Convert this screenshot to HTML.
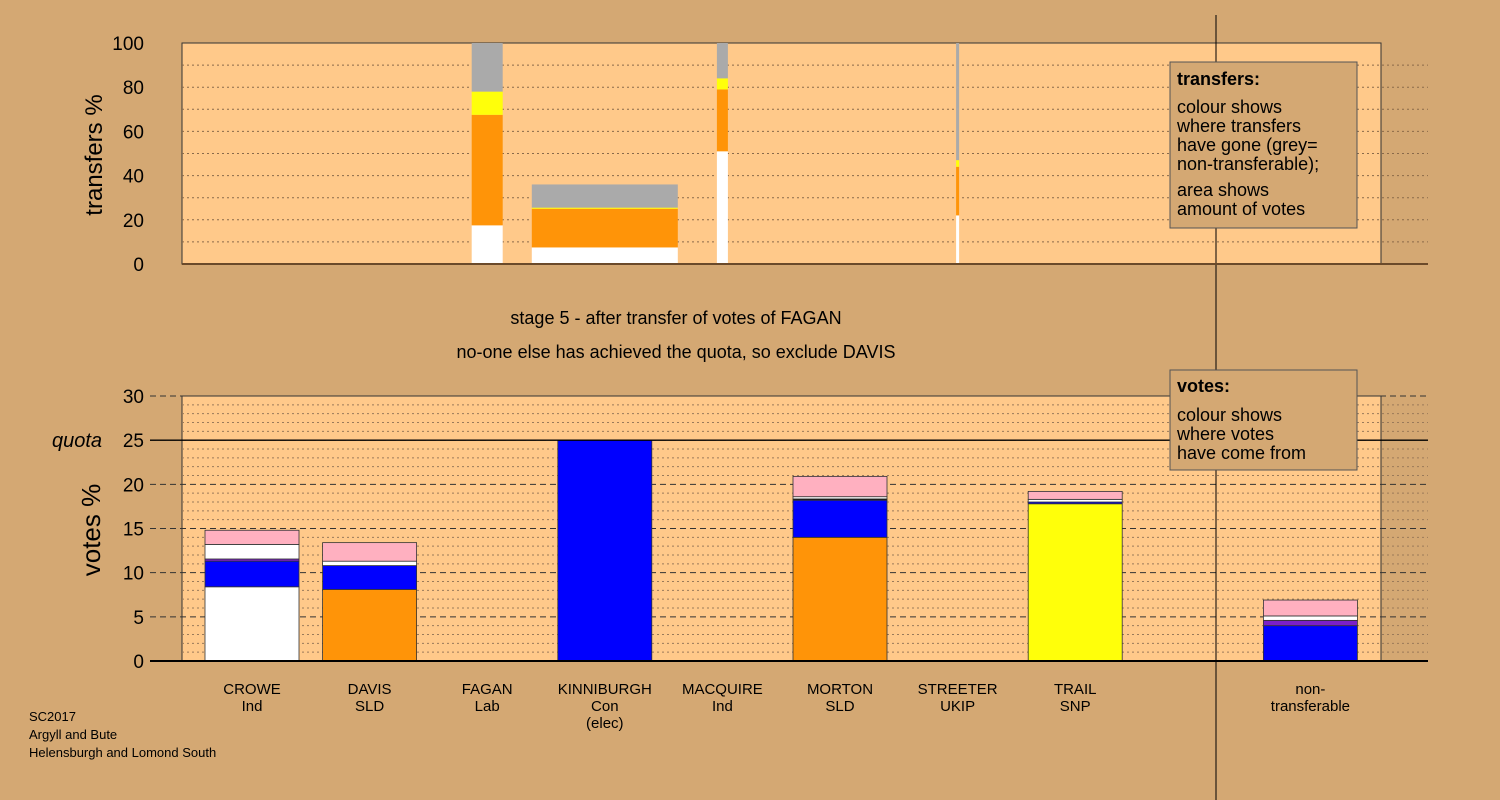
<!DOCTYPE html>
<html><head><meta charset="utf-8"><style>
html,body{margin:0;padding:0;background:#D4A873;}
svg{display:block;font-family:"Liberation Sans",sans-serif;}
</style></head><body>
<svg id="c" width="1500" height="800" viewBox="0 0 1500 800" xmlns="http://www.w3.org/2000/svg">
<rect x="0" y="0" width="1500" height="800" fill="#D4A873"/>
<rect x="182" y="43" width="1199" height="221" fill="#FFC98A" stroke="#333" stroke-width="1"/>
<rect x="182" y="396" width="1199" height="265" fill="#FFC98A" stroke="#333" stroke-width="1"/>
<g id="grid"></g>
<g id="marks"></g>
<line x1="1216" y1="15" x2="1216" y2="800" stroke="#000" stroke-width="1"/>
<g id="axes"></g>
<text x="102" y="155" transform="rotate(-90 102 155)" text-anchor="middle" font-size="24">transfers %</text>
<text x="100" y="530" transform="rotate(-90 100 530)" text-anchor="middle" font-size="26">votes %</text>
<text x="676" y="324" text-anchor="middle" font-size="18">stage 5 - after transfer of votes of FAGAN</text>
<text x="676" y="358" text-anchor="middle" font-size="18">no-one else has achieved the quota, so exclude DAVIS</text>
<g>
<rect x="1170" y="62" width="187" height="166" fill="#D4A873" stroke="#555"/>
<text x="1177" y="85" font-size="18" font-weight="bold">transfers:</text>
<text font-size="18"><tspan x="1177" y="113">colour shows</tspan><tspan x="1177" y="132">where transfers</tspan><tspan x="1177" y="151">have gone (grey=</tspan><tspan x="1177" y="170">non-transferable);</tspan><tspan x="1177" y="196">area shows</tspan><tspan x="1177" y="215">amount of votes</tspan></text>
</g>
<g>
<rect x="1170" y="370" width="187" height="100" fill="#D4A873" stroke="#555"/>
<text x="1177" y="392" font-size="18" font-weight="bold">votes:</text>
<text font-size="18"><tspan x="1177" y="421">colour shows</tspan><tspan x="1177" y="440">where votes</tspan><tspan x="1177" y="459">have come from</tspan></text>
</g>
<text font-size="13"><tspan x="29" y="721">SC2017</tspan><tspan x="29" y="739">Argyll and Bute</tspan><tspan x="29" y="757">Helensburgh and Lomond South</tspan></text>
</svg>
<script>
const categories = ["CROWE|Ind","DAVIS|SLD","FAGAN|Lab","KINNIBURGH|Con|(elec)","MACQUIRE|Ind","MORTON|SLD","STREETER|UKIP","TRAIL|SNP","","non-|transferable"];
const segColors = ["#FFFFFF","#FF9408","#0000FF","#7B1FC8","#000000","#FFFF0A","#FFFFFF","#FFB0C0"];
// votes % stacks per candidate: [value, colorIndex]
const votesStacks = [
 [[8.4,0],[2.9,2],[0.25,3],[1.65,6],[1.6,7]],
 [[8.1,1],[2.7,2],[0.5,6],[2.1,7]],
 [],
 [[25.0,2]],
 [],
 [[14.0,1],[4.2,2],[0.15,4],[0.25,6],[2.3,7]],
 [],
 [[17.8,5],[0.2,2],[0.3,6],[0.9,7]],
 [],
 [[4.0,2],[0.6,3],[0.5,6],[1.8,7]]
];
const transferCats = [2,3,4,6];
const transferWidths = [31,146,11,3];
const transferWhite = [17.5,7.5,51,22];
const transferOrange = [50,17.5,28,22];
const transferYellow = [10.5,0.5,5,3];
const transferGrey = [22,10.5,16,53];
const votesTicks = [0,5,10,15,20,25,30];
const transferTicks = [0,20,40,60,80,100];
const quota = 25;

const NS="http://www.w3.org/2000/svg";
function mk(tag,attrs,parent){const e=document.createElementNS(NS,tag);for(const k in attrs)e.setAttribute(k,attrs[k]);parent.appendChild(e);return e;}
const xC=i=>252+i*117.6;
const yV=v=>661-v*265/30;
const yT=v=>264-v*2.21;
const grid=document.getElementById('grid'),marks=document.getElementById('marks'),axes=document.getElementById('axes');

for(let v=10;v<100;v+=10){const l=mk('line',{x1:182,x2:1428,y1:yT(v),y2:yT(v),stroke:'#8a6a4a','stroke-width':1,'stroke-dasharray':'2,3'},grid);

}
for(let v=1;v<=30;v++){const maj=v%5===0;const l=mk('line',{x1:150,x2:1428,y1:yV(v),y2:yV(v),stroke:maj?'#333':'#9a7a5a','stroke-width':1,'stroke-dasharray':maj?'6,4':'2,3'},grid);
if(!maj){l.setAttribute('x1',182);}

}

transferCats.forEach((ci,k)=>{
 const w=transferWidths[k],x=xC(ci)-w/2;let acc=0;
 [[transferWhite[k],'#FFFFFF'],[transferOrange[k],'#FF9408'],[transferYellow[k],'#FFFF0A'],[transferGrey[k],'#AAAAAA']].forEach(([v,c])=>{
  const r=mk('rect',{x:x,width:w,y:yT(acc+v),height:v*2.21,fill:c},marks);
  
  
  acc+=v;});
});

votesStacks.forEach((st,i)=>{
 let acc=0;const x=xC(i)-47;
 st.forEach(([v,ci])=>{
  const r=mk('rect',{x:x,width:94,y:yV(acc+v),height:v*265/30,fill:segColors[ci],stroke:'#333','stroke-width':0.8},marks);
  
  
  acc+=v;});
 if(categories[i]){
  const t=mk('text',{x:xC(i),'text-anchor':'middle','font-size':15},axes);
  
  
  categories[i].split('|').forEach((s,j)=>{const sp=mk('tspan',{x:xC(i),y:694+j*17},t);sp.textContent=s;});
 }
});

const q=mk('line',{x1:150,x2:1428,y1:yV(quota),y2:yV(quota),stroke:'#000','stroke-width':1.3},axes);


const ql=mk('text',{x:52,y:yV(quota)+7,'font-size':20,'font-style':'italic'},axes);ql.textContent='quota';



votesTicks.forEach(v=>{const t=mk('text',{x:144,y:yV(v)+7,'text-anchor':'end','font-size':19},axes);t.textContent=v;

});
transferTicks.forEach(v=>{const t=mk('text',{x:144,y:yT(v)+7,'text-anchor':'end','font-size':19},axes);t.textContent=v;

});
const b1=mk('line',{x1:182,x2:1428,y1:264,y2:264,stroke:'#6b4a2a','stroke-width':2},axes);


const b2=mk('line',{x1:150,x2:1428,y1:661,y2:661,stroke:'#000','stroke-width':2},axes);


</script>
</body></html>
